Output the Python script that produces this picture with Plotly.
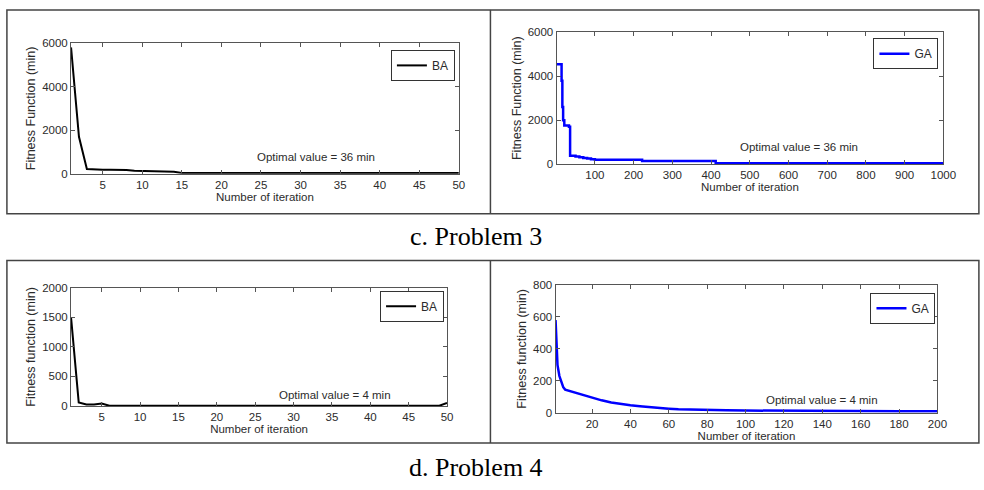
import plotly.graph_objects as go

# ---------------- data ----------------
# Problem 3, Bat Algorithm
ba3_iter = [1, 2, 3, 4, 5, 6, 7, 8, 9, 10, 11, 12, 13, 14, 15, 50]
ba3_fit = [5800, 1700, 220, 190, 190, 180, 180, 170, 140, 130, 120, 110, 100, 90, 36, 36]

# Problem 3, Genetic Algorithm (step curve: value holds until next change)
ga3_iter = [1, 14, 16, 18, 21, 33, 36, 50, 60, 70, 80, 90, 100, 222, 412, 1000]
ga3_fit = [4550, 3800, 2600, 2000, 1750, 1700, 380, 340, 310, 280, 250, 220, 190, 140, 36, 36]

# Problem 4, Bat Algorithm
ba4_iter = [1, 2, 3, 4, 5, 6, 49, 50]
ba4_fit = [1500, 60, 25, 25, 40, 4, 4, 50]

# Problem 4, Genetic Algorithm
ga4_iter = [1, 2, 3, 4, 5, 6, 8, 10, 12, 15, 18, 20, 25, 30, 35, 40, 45, 50,
            55, 60, 65, 70, 80, 90, 100, 120, 140, 160, 180, 200]
ga4_fit = [580, 300, 230, 200, 160, 145, 138, 132, 122, 110, 100, 92, 78, 64, 54, 47, 41, 35,
           30, 26, 22, 20, 18, 16, 14, 12, 11, 10, 10, 10]

x_title = "Number of iteration"
y_title_3 = "Fitness Function (min)"
y_title_4 = "Fitness function (min)"
caption_3 = "c. Problem 3"
caption_4 = "d. Problem 4"
note_3 = "Optimal value = 36 min"
note_4 = "Optimal value = 4 min"

# ---------------- layout helpers ----------------
W, H = 984, 490


def fx(p):
    return p / W


def fy(p):
    return 1 - p / H


TXT = "#2b2b2b"
AX = "#555555"
SANS = "Liberation Sans, Arial, sans-serif"
SERIF = "Liberation Serif, Times New Roman, serif"

fig = go.Figure()

fig.add_trace(go.Scatter(x=ba3_iter, y=ba3_fit, mode="lines", name="BA",
                         line=dict(color="black", width=2), xaxis="x", yaxis="y",
                         legend="legend"))
fig.add_trace(go.Scatter(x=ga3_iter, y=ga3_fit, mode="lines", name="GA",
                         line=dict(color="#0000ff", width=2.5, shape="hv"),
                         xaxis="x2", yaxis="y2", legend="legend2"))
fig.add_trace(go.Scatter(x=ba4_iter, y=ba4_fit, mode="lines", name="BA",
                         line=dict(color="black", width=2), xaxis="x3", yaxis="y3",
                         legend="legend3"))
fig.add_trace(go.Scatter(x=ga4_iter, y=ga4_fit, mode="lines", name="GA",
                         line=dict(color="#0000ff", width=2.5), xaxis="x4", yaxis="y4",
                         legend="legend4"))


def xax(dom, rng, dtick, anchor):
    return dict(domain=[fx(dom[0]), fx(dom[1])], range=rng, dtick=dtick, tick0=0,
                anchor=anchor, showline=True, linecolor=AX, linewidth=1, mirror="ticks",
                ticks="inside", ticklen=4, tickcolor=AX, showgrid=False, zeroline=False,
                tickfont=dict(family=SANS, size=11.5, color=TXT),
                title=dict(text=x_title, font=dict(family=SANS, size=11.5, color=TXT),
                           standoff=3))


def yax(dom, rng, dtick, anchor, title):
    return dict(domain=[fy(dom[1]), fy(dom[0])], range=rng, dtick=dtick, tick0=0,
                anchor=anchor, showline=True, linecolor=AX, linewidth=1, mirror="ticks",
                ticks="inside", ticklen=4, tickcolor=AX, showgrid=False, zeroline=False,
                tickfont=dict(family=SANS, size=11.5, color=TXT),
                title=dict(text=title, font=dict(family=SANS, size=12.5, color=TXT),
                           standoff=3))


def leg(right, top):
    return dict(x=fx(right), y=fy(top), xanchor="right", yanchor="top",
                xref="paper", yref="paper", bgcolor="white", bordercolor="#333333",
                borderwidth=1, font=dict(family=SANS, size=12, color=TXT))


layout = dict(
    width=W, height=H, margin=dict(l=0, r=0, t=0, b=0),
    paper_bgcolor="white", plot_bgcolor="white", showlegend=True,
    xaxis=xax([72, 465], [1, 50], 5, "y"),
    yaxis=yax([38, 172], [0, 6000], 2000, "x", y_title_3),
    xaxis2=xax([564, 956], [1, 1000], 100, "y2"),
    yaxis2=yax([27, 162], [0, 6000], 2000, "x2", y_title_3),
    xaxis3=xax([72, 453], [1, 50], 5, "y3"),
    yaxis3=yax([289, 410], [0, 2000], 500, "x3", y_title_4),
    xaxis4=xax([563, 950], [1, 200], 20, "y4"),
    yaxis4=yax([286, 417], [0, 800], 200, "x4", y_title_4),
    legend=leg(461, 45),
    legend2=leg(951, 33),
    legend3=leg(450, 292),
    legend4=leg(948, 294),
)
fig.update_layout(**layout)

# notes inside the plots
for text, cx, cy in [(note_3, 320, 155), (note_3, 810, 145), (note_4, 339, 399), (note_4, 833, 404)]:
    fig.add_annotation(text=text, x=fx(cx), y=fy(cy), xref="paper", yref="paper",
                       xanchor="center", yanchor="middle", showarrow=False,
                       font=dict(family=SANS, size=11.5, color=TXT))

# captions
for text, cy in [(caption_3, 236), (caption_4, 473)]:
    fig.add_annotation(text=text, x=fx(482), y=fy(cy), xref="paper", yref="paper",
                       xanchor="center", yanchor="middle", showarrow=False,
                       font=dict(family=SERIF, size=26, color="black"))

# table-like frames around the panels
frame = dict(color="#444444", width=1.5)
for top, bottom in [(4, 213), (261, 448)]:
    fig.add_shape(type="rect", xref="paper", yref="paper", x0=fx(7), x1=fx(992),
                  y0=fy(bottom), y1=fy(top), line=frame, layer="above")
    fig.add_shape(type="line", xref="paper", yref="paper", x0=fx(497), x1=fx(497),
                  y0=fy(bottom), y1=fy(top), line=frame, layer="above")

fig.write_html("out.html")
